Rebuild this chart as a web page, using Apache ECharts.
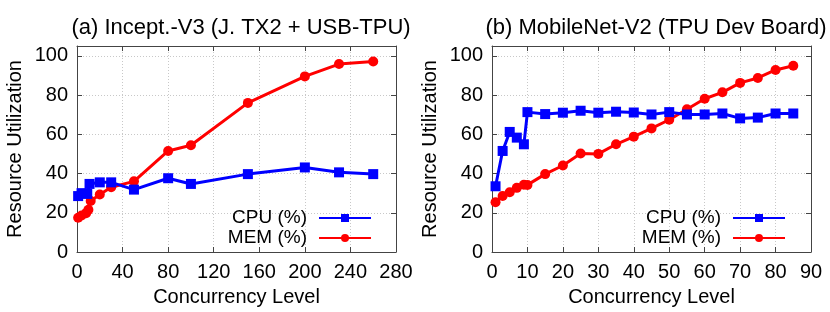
<!DOCTYPE html>
<html>
<head>
<meta charset="utf-8">
<script src="https://cdn.jsdelivr.net/npm/echarts@6/dist/echarts.min.js"></script>
<style>html,body{margin:0;padding:0;background:#fff}#c{width:830px;height:312px}</style>
</head>
<body>
<div id="c"></div>
<script>
// Panel (a) Incept.-V3 (J. TX2 + USB-TPU)
const titleA = '(a) Incept.-V3 (J. TX2 + USB-TPU)';
const cpuAx = [1, 4, 9, 11, 20, 30, 50, 80, 100, 150, 200, 230, 260];
const cpuAy = [28.5, 30, 29.6, 34.7, 35.5, 35.5, 31.8, 37.6, 34.7, 39.7, 43.1, 40.6, 39.7];
const memAx = [1, 4, 8, 10, 12, 20, 30, 50, 80, 100, 150, 200, 230, 260];
const memAy = [17.5, 18.6, 19.8, 21.5, 26, 29.3, 33, 36, 51.5, 54.4, 76, 89.5, 95.8, 97.1];
// Panel (b) MobileNet-V2 (TPU Dev Board)
const titleB = '(b) MobileNet-V2 (TPU Dev Board)';
const bx = [1, 3, 5, 7, 9, 10, 15, 20, 25, 30, 35, 40, 45, 50, 55, 60, 65, 70, 75, 80, 85];
const cpuBy = [33.5, 51.5, 61.2, 58.3, 54.9, 71.3, 70.3, 71, 72, 71, 71.5, 71.1, 70.1, 71.3, 70.1, 70.1, 70.6, 68.1, 68.5, 70.6, 70.6];
const memBy = [25.4, 28.5, 30.5, 32.7, 34.3, 34.2, 39.7, 44.1, 50.2, 50, 54.9, 58.8, 63, 67.4, 72.8, 78.1, 81.4, 86.2, 88.7, 92.8, 94.9];
const yTicks = [0, 20, 40, 60, 80, 100];
const seriesNames = ['CPU (%)', 'MEM (%)'];
const xNameText = 'Concurrency Level';
const yNameText = 'Resource Utilization';

const FONT = 'Liberation Sans';
const pair = (xs, ys) => xs.map((x, i) => [x, ys[i]]);
const borderColor = '#444';
const gridLine = {show: true, lineStyle: {color: '#c8c8c8', type: [1, 2], width: 1}};

function xAx(gi, max, interval, top) {
  return {
    type: 'value', gridIndex: gi, min: 0, max: max, interval: interval,
    position: top ? 'top' : 'bottom',
    name: top ? '' : xNameText, nameLocation: 'middle', nameGap: 35,
    nameTextStyle: {fontFamily: FONT, fontSize: 20, color: '#000'},
    axisLine: {show: true, onZero: false, lineStyle: {color: borderColor, width: 1}},
    axisTick: {show: true, inside: true, length: 5, lineStyle: {color: borderColor}},
    axisLabel: {show: !top, fontFamily: FONT, fontSize: 20, color: '#000', margin: 10},
    splitLine: top ? {show: false} : gridLine
  };
}
function yAx(gi, right) {
  return {
    type: 'value', gridIndex: gi, min: 0, max: 105, interval: 20,
    position: right ? 'right' : 'left',
    name: right ? '' : yNameText, nameLocation: 'middle', nameGap: 52,
    nameTextStyle: {fontFamily: FONT, fontSize: 20, color: '#000'},
    axisLine: {show: true, onZero: false, lineStyle: {color: borderColor, width: 1}},
    axisTick: {show: true, inside: true, length: 5, lineStyle: {color: borderColor}},
    axisLabel: {show: !right, fontFamily: FONT, fontSize: 20, color: '#000', margin: 9,
      formatter: v => yTicks.includes(v) ? String(v) : ''},
    splitLine: right ? {show: false} : gridLine
  };
}
function ser(name, data, xi, yi, color, symbol) {
  return {
    type: 'line', name: name, data: data, xAxisIndex: xi, yAxisIndex: yi,
    symbol: symbol, symbolSize: 10,
    lineStyle: {color: color, width: 3}, itemStyle: {color: color},
    animation: false, z: symbol === 'rect' ? 3 : 2
  };
}
function legend(right) {
  return {
    orient: 'vertical', right: right, top: 203, align: 'right',
    itemWidth: 52, itemHeight: 10, itemGap: 0,
    data: seriesNames,
    textStyle: {fontFamily: FONT, fontSize: 19, color: '#000', padding: [0, 7, 0, 0], lineHeight: 20}
  };
}

const chart = echarts.init(document.getElementById('c'), null, {renderer: 'canvas'});
chart.setOption({
  animation: false,
  backgroundColor: '#fff',
  title: [
    {text: titleA, left: 236, top: 12, textAlign: 'center', textStyle: {fontFamily: FONT, fontSize: 22, fontWeight: 'normal', color: '#000'}},
    {text: titleB, left: 651, top: 12, textAlign: 'center', textStyle: {fontFamily: FONT, fontSize: 22, fontWeight: 'normal', color: '#000'}}
  ],
  grid: [
    {left: 77, right: 434, top: 46, bottom: 58},
    {left: 492, right: 19, top: 46, bottom: 58}
  ],
  xAxis: [xAx(0, 280, 40, false), xAx(0, 280, 40, true), xAx(1, 90, 10, false), xAx(1, 90, 10, true)],
  yAxis: [yAx(0, false), yAx(0, true), yAx(1, false), yAx(1, true)],
  legend: [legend(453), legend(39)],
  series: [
    ser(seriesNames[0], pair(cpuAx, cpuAy), 0, 0, '#0000ff', 'rect'),
    ser(seriesNames[1], pair(memAx, memAy), 0, 0, '#ff0000', 'circle'),
    ser(seriesNames[0], pair(bx, cpuBy), 2, 2, '#0000ff', 'rect'),
    ser(seriesNames[1], pair(bx, memBy), 2, 2, '#ff0000', 'circle')
  ]
});
</script>
</body>
</html>
